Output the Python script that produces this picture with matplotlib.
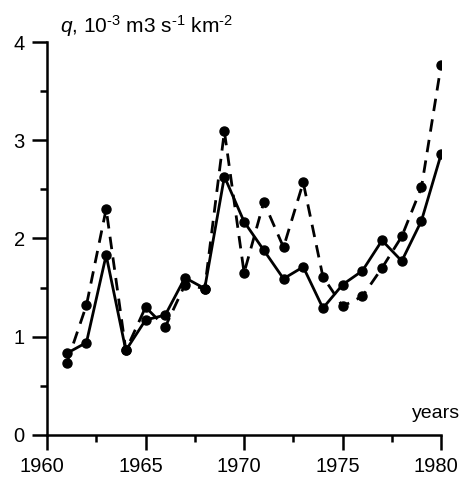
import numpy as np
import matplotlib.pyplot as plt
from matplotlib.ticker import MultipleLocator
from matplotlib.transforms import ScaledTranslation

plt.rcParams['font.family'] = ['Liberation Sans', 'DejaVu Sans']
plt.rcParams['mathtext.fontset'] = 'custom'
plt.rcParams['mathtext.rm'] = 'Liberation Sans'
plt.rcParams['mathtext.it'] = 'Liberation Sans:italic'

years = np.arange(1961, 1981)
q_solid = [0.83, 0.94, 1.83, 0.86, 1.17, 1.22, 1.60, 1.49, 2.63, 2.17,
           1.88, 1.59, 1.71, 1.29, 1.53, 1.67, 1.98, 1.77, 2.18, 2.86]
q_dashed = [0.73, 1.32, 2.30, 0.86, 1.30, 1.10, 1.53, 1.49, 3.09, 1.65,
            2.37, 1.91, 2.57, 1.61, 1.31, 1.41, 1.70, 2.02, 2.52, 3.77]

fig = plt.figure(figsize=(4.61, 4.80), dpi=100)
ax = fig.add_axes([0.102, 0.094, 0.855, 0.8185])

ax.plot(years, q_dashed, color='black', lw=2.0, ls=(0, (4.5, 3)),
        marker='o', ms=6.5, zorder=3)
ax.plot(years, q_solid, color='black', lw=2.0, ls='-',
        marker='o', ms=6.5, zorder=4)

ax.set_xlim(1960, 1980)
ax.set_ylim(0, 4)
ax.xaxis.set_major_locator(MultipleLocator(5))
ax.xaxis.set_minor_locator(MultipleLocator(2.5))
ax.yaxis.set_major_locator(MultipleLocator(1))
ax.yaxis.set_minor_locator(MultipleLocator(0.5))

for s in ['top', 'right']:
    ax.spines[s].set_visible(False)
for s in ['left', 'bottom']:
    ax.spines[s].set_linewidth(1.8)

ax.tick_params(which='major', length=11, width=1.8, direction='out', labelsize=14.5)
ax.tick_params(which='minor', length=5, width=1.8, direction='out')
ax.tick_params(axis='x', which='major', pad=5)
ax.tick_params(axis='y', which='major', pad=5)

# x tick labels sit a little left of their ticks in the original
shift = ScaledTranslation(-5 / 100, 0, fig.dpi_scale_trans)
for lab in ax.get_xticklabels():
    lab.set_transform(lab.get_transform() + shift)

ax.text(0.033, 1.023, '$q$, 10$^{\u20103}$ m3 s$^{\u20101}$ km$^{\u20102}$',
        transform=ax.transAxes, fontsize=15, ha='left', va='baseline')
ax.text(1.048, 0.043, 'years', transform=ax.transAxes, fontsize=14,
        ha='right', va='baseline')

fig.savefig('out.png', dpi=100)
